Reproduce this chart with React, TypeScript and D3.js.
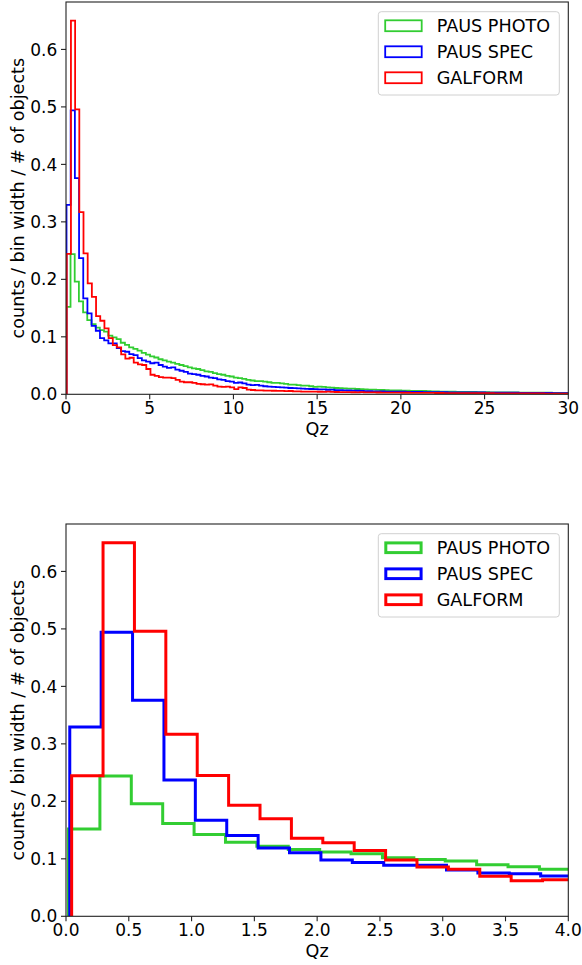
import React from 'react';
import * as d3 from 'd3';

const SERIES_NAMES = ['PAUS PHOTO', 'PAUS SPEC', 'GALFORM'];
const SERIES_COLORS = ['#32cd32', '#0000ff', '#ff0000'];
const BIN_WIDTH = 0.25;
const PHOTO_BIN_START = 0.02;
const SPEC_BIN_START = 0.03;
const GALFORM_BIN_START = 0.045;

const PHOTO_VALUES = [
  0.152, 0.244, 0.196, 0.1616, 0.1425, 0.129, 0.122, 0.116,
  0.1117, 0.109, 0.102, 0.099, 0.096, 0.0897, 0.086, 0.0817,
  0.079, 0.076, 0.072, 0.069,
  0.066, 0.064, 0.061, 0.059,
  0.057, 0.055, 0.053, 0.051,
  0.049, 0.047, 0.045, 0.044,
  0.042, 0.040, 0.039, 0.037,
  0.035, 0.034, 0.032, 0.031,
  0.029, 0.028, 0.027, 0.025,
  0.024, 0.023, 0.023, 0.022,
  0.021, 0.020, 0.020, 0.019,
  0.018, 0.017, 0.017, 0.016,
  0.015, 0.015, 0.014, 0.013,
  0.0133, 0.0128, 0.012, 0.0116,
  0.011, 0.0107, 0.0103, 0.0099,
  0.0097, 0.0092, 0.009, 0.0086,
  0.0083, 0.008, 0.0078, 0.0075,
  0.0073, 0.007, 0.0069, 0.0066,
  0.0064, 0.0062, 0.006, 0.0059,
  0.0058, 0.0057, 0.0055, 0.0052,
  0.0049, 0.0047, 0.0046, 0.0045,
  0.0044, 0.0043, 0.0042, 0.0041,
  0.004, 0.0041, 0.0039, 0.0038,
  0.0036, 0.0035, 0.0034, 0.0034,
  0.0033, 0.0032, 0.0032, 0.0031,
  0.003, 0.003, 0.0029, 0.0029,
  0.0028, 0.0028, 0.0027, 0.0027,
  0.0026, 0.0026, 0.0025, 0.0025,
];

const SPEC_VALUES = [
  0.3295, 0.494, 0.376, 0.237, 0.167, 0.1407, 0.119, 0.1106,
  0.0978, 0.0938, 0.0886, 0.0886, 0.0805, 0.0752, 0.074, 0.070,
  0.068, 0.063, 0.059, 0.057,
  0.054, 0.055, 0.051, 0.048,
  0.046, 0.047, 0.043, 0.041,
  0.039, 0.036, 0.035, 0.034,
  0.032, 0.031, 0.029, 0.028,
  0.026, 0.025, 0.023, 0.022,
  0.020, 0.0205, 0.019, 0.017,
  0.016, 0.0165, 0.015, 0.014,
  0.0135, 0.013, 0.0125, 0.012,
  0.0115, 0.011, 0.0108, 0.0103,
  0.0098, 0.0095, 0.0092, 0.009,
  0.0087, 0.0085, 0.0079, 0.0081,
  0.0074, 0.0071, 0.0069, 0.0066,
  0.0063, 0.0062, 0.0058, 0.0056,
  0.0055, 0.0052, 0.0051, 0.0049,
  0.0048, 0.0047, 0.0046, 0.0045,
  0.0044, 0.0042, 0.0043, 0.0041,
  0.004, 0.0039, 0.0038, 0.0038,
  0.0037, 0.0036, 0.0036, 0.0035,
  0.0035, 0.0034, 0.0033, 0.0033,
  0.0032, 0.0032, 0.0031, 0.0031,
  0.003, 0.003, 0.0029, 0.0029,
  0.0028, 0.0028, 0.0027, 0.0027,
  0.0026, 0.0026, 0.0025, 0.0025,
  0.0024, 0.0024, 0.0023, 0.0023,
  0.0022, 0.0022, 0.0021, 0.0021,
];

const GALFORM_VALUES = [
  0.2444, 0.65, 0.4957, 0.3168, 0.245, 0.193, 0.1696, 0.136,
  0.128, 0.1146, 0.0978, 0.0857, 0.0817, 0.0695, 0.0619, 0.0636,
  0.055, 0.052, 0.051, 0.044,
  0.034, 0.032, 0.030, 0.029,
  0.029, 0.028, 0.025, 0.022,
  0.021, 0.021, 0.020, 0.018,
  0.0175, 0.017, 0.0174, 0.015,
  0.0135, 0.013, 0.0135, 0.012,
  0.009, 0.012, 0.011, 0.008,
  0.0075, 0.007, 0.0068, 0.0065,
  0.0065, 0.0062, 0.006, 0.0058,
  0.0055, 0.0057, 0.0052, 0.005,
  0.0048, 0.0047, 0.0046, 0.0045,
  0.0044, 0.0042, 0.0045, 0.0041,
  0.004, 0.0038, 0.0039, 0.0037,
  0.0036, 0.0035, 0.0037, 0.0034,
  0.0033, 0.0032, 0.0031, 0.003,
  0.003, 0.0029, 0.0028, 0.0028,
  0.0027, 0.0027, 0.0026, 0.0026,
  0.0025, 0.0025, 0.0024, 0.0024,
  0.0023, 0.0023, 0.0022, 0.0022,
  0.0021, 0.0021, 0.002, 0.002,
  0.002, 0.0019, 0.0019, 0.0018,
  0.0018, 0.0018, 0.0017, 0.0017,
  0.0017, 0.0016, 0.0016, 0.0016,
  0.0015, 0.0015, 0.0015, 0.0014,
  0.0014, 0.0014, 0.0013, 0.0013,
  0.0013, 0.0012, 0.0012, 0.0012,
];

const SERIES_STARTS = [PHOTO_BIN_START, SPEC_BIN_START, GALFORM_BIN_START];
const SERIES_VALUES = [PHOTO_VALUES, SPEC_VALUES, GALFORM_VALUES];

const Y_MAX = 0.6825;
const Y_TICKS = [0, 0.1, 0.2, 0.3, 0.4, 0.5, 0.6];
const TOP_X_TICKS = [0, 5, 10, 15, 20, 25, 30];
const BOTTOM_X_TICKS = [0, 0.5, 1, 1.5, 2, 2.5, 3, 3.5, 4];
const X_LABEL = 'Qz';
const Y_LABEL = 'counts / bin width / # of objects';

const FONT = '"DejaVu Sans", sans-serif';
const FS = 17;
const FS_LABEL = 17.6;
const LEFT = 66;
const RIGHT = 568.3;
const AXIS_COLOR = '#222';

function stepPath(start: number, values: number[], x: d3.ScaleLinear<number, number>, y: d3.ScaleLinear<number, number>) {
  const pts: [number, number][] = [];
  pts.push([start, 0]);
  values.forEach((v, i) => {
    const e0 = start + i * BIN_WIDTH;
    const e1 = start + (i + 1) * BIN_WIDTH;
    pts.push([e0, v]);
    pts.push([e1, v]);
  });
  pts.push([start + values.length * BIN_WIDTH, 0]);
  const line = d3.line<[number, number]>().x(d => x(d[0])).y(d => y(d[1]));
  return line(pts) || '';
}

function Panel({ id, top, xMax, xTicks, fmt, lw }: { id: string; top: number; xMax: number; xTicks: number[]; fmt: (n: number) => string; lw: number }) {
  const bottom = top + 392.3;
  const x = d3.scaleLinear().domain([0, xMax]).range([LEFT, RIGHT]);
  const y = d3.scaleLinear().domain([0, Y_MAX]).range([bottom, top]);
  const yfmt = d3.format('.1f');
  return (
    <g>
      <defs>
        <clipPath id={id}>
          <rect x={LEFT} y={top} width={RIGHT - LEFT} height={bottom - top} />
        </clipPath>
      </defs>
      <g clipPath={`url(#${id})`}>
        {SERIES_VALUES.map((vals, i) => (
          <path key={i} d={stepPath(SERIES_STARTS[i], vals, x, y)} fill="none" stroke={SERIES_COLORS[i]} strokeWidth={lw} strokeLinejoin="miter" />
        ))}
      </g>
      <rect x={LEFT} y={top} width={RIGHT - LEFT} height={bottom - top} fill="none" stroke={AXIS_COLOR} strokeWidth={1.1} />
      {Y_TICKS.map(t => (
        <g key={t}>
          <line x1={LEFT - 5} x2={LEFT} y1={y(t)} y2={y(t)} stroke={AXIS_COLOR} strokeWidth={1.1} />
          <text x={LEFT - 8.7} y={y(t)} dy="0.36em" textAnchor="end" fontSize={FS} fontFamily={FONT} fill="#000">{yfmt(t)}</text>
        </g>
      ))}
      {xTicks.map(t => (
        <g key={t}>
          <line x1={x(t)} x2={x(t)} y1={bottom} y2={bottom + 5} stroke={AXIS_COLOR} strokeWidth={1.1} />
          <text x={x(t)} y={bottom + 19.2} textAnchor="middle" fontSize={FS} fontFamily={FONT} fill="#000">{fmt(t)}</text>
        </g>
      ))}
      <text x={(LEFT + RIGHT) / 2} y={bottom + 40.5} textAnchor="middle" fontSize={FS_LABEL} fontFamily={FONT} fill="#000">{X_LABEL}</text>
      <text transform={`translate(24,${(top + bottom) / 2}) rotate(-90)`} textAnchor="middle" fontSize={FS_LABEL} fontFamily={FONT} fill="#000">{Y_LABEL}</text>
      <g>
        <rect x={378.3} y={top + 9.7} width={181} height={83.3} rx={3} fill="#fff" fillOpacity={0.8} stroke="#d0d0d0" strokeWidth={1} />
        {SERIES_NAMES.map((name, i) => {
          const cy = top + 23.7 + i * 26;
          return (
            <g key={name}>
              <rect x={384.3 + lw / 2} y={cy - 6.3 + lw / 2} width={38.3 - lw} height={12.7 - lw} fill="none" stroke={SERIES_COLORS[i]} strokeWidth={lw} />
              <text x={436.7} y={cy} dy="0.36em" fontSize={FS_LABEL} fontFamily={FONT} fill="#000">{name}</text>
            </g>
          );
        })}
      </g>
    </g>
  );
}

export default function App() {
  return (
    <svg width={582} height={965} style={{ position: 'absolute', left: 0, top: 0, background: '#fff' }}>
      <rect width={582} height={965} fill="#fff" />
      <Panel id="clipTop" top={2} xMax={30} xTicks={TOP_X_TICKS} fmt={d3.format('d')} lw={1.8} />
      <Panel id="clipBottom" top={524} xMax={4} xTicks={BOTTOM_X_TICKS} fmt={d3.format('.1f')} lw={3} />
    </svg>
  );
}
